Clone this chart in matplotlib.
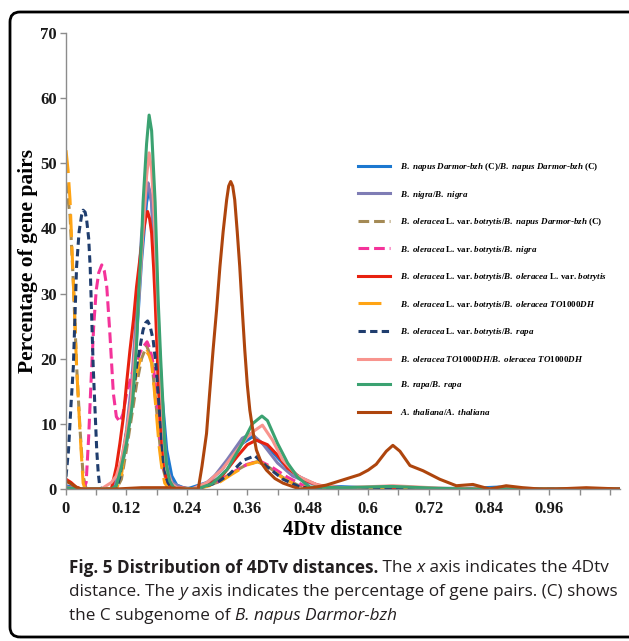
import matplotlib
matplotlib.use("Agg")
import matplotlib.pyplot as plt
from matplotlib.patches import FancyBboxPatch

plt.rcParams['mathtext.fontset'] = 'custom'
plt.rcParams['mathtext.it'] = 'Liberation Serif:italic:bold'
plt.rcParams['mathtext.rm'] = 'Liberation Serif:bold'
plt.rcParams['mathtext.bf'] = 'Liberation Serif:bold'

def L(s):
    return r"$\mathit{" + s.replace(" ", r"\ ") + "}$"

BOL = L("B. oleracea") + " L. var. " + L("botrytis")
BNC = L("B. napus Darmor") + "-" + L("bzh") + " (C)"

labels = [
    BNC + "/" + BNC,
    L("B. nigra") + "/" + L("B. nigra"),
    BOL + "/" + BNC,
    BOL + "/" + L("B. nigra"),
    BOL + "/" + BOL,
    BOL + "/" + L("B. oleracea TO1000DH"),
    BOL + "/" + L("B. rapa"),
    L("B. oleracea TO1000DH") + "/" + L("B. oleracea TO1000DH"),
    L("B. rapa") + "/" + L("B. rapa"),
    L("A. thaliana") + "/" + L("A. thaliana"),
]

# ---- data (4Dtv distance, percentage of gene pairs) ----
blue_x = [0, 0.03, 0.09, 0.10, 0.11, 0.12, 0.13, 0.14, 0.15, 0.16, 0.165, 0.17, 0.18, 0.19, 0.20, 0.21, 0.22, 0.24, 0.28, 0.31, 0.34, 0.37, 0.40, 0.43, 0.46, 0.50, 0.60, 0.70, 0.80, 0.86, 0.90, 1.0, 1.1]
blue_y = [0.5, 0, 0, 1, 3, 7, 13, 23, 35, 44, 46, 44, 30, 15, 6, 2, 0.6, 0, 1, 3, 6.5, 8, 6.5, 4, 2, 0.5, 0.2, 0.1, 0.1, 0.3, 0.1, 0, 0]

purple_x = [0, 0.03, 0.09, 0.10, 0.11, 0.12, 0.13, 0.14, 0.15, 0.16, 0.163, 0.17, 0.18, 0.19, 0.20, 0.21, 0.23, 0.26, 0.29, 0.32, 0.35, 0.368, 0.39, 0.42, 0.45, 0.48, 0.52, 0.6, 1.1]
purple_y = [0.3, 0, 0, 1.5, 4, 9, 16, 27, 39, 46, 47, 44, 30, 13, 3.5, 1, 0.2, 0, 1.5, 4.5, 7.8, 8.5, 7, 4, 2, 1, 0.2, 0, 0]

olive_x = [0, 0.008, 0.015, 0.021, 0.028, 0.034, 0.04, 0.10, 0.11, 0.12, 0.13, 0.14, 0.15, 0.16, 0.17, 0.18, 0.19, 0.20, 0.21, 0.26, 0.30, 0.33, 0.36, 0.38, 0.40, 0.43, 0.46, 0.50, 1.1]
olive_y = [47, 42, 31, 19, 9, 2, 0, 0, 1.5, 6, 11, 16, 20, 22, 20, 12, 4, 1, 0.2, 0, 1, 2.5, 3.8, 4.2, 3.5, 1.8, 0.6, 0, 0]

pink_x = [0, 0.02, 0.035, 0.040, 0.045, 0.050, 0.055, 0.06, 0.065, 0.071, 0.076, 0.081, 0.087, 0.094, 0.100, 0.107, 0.113, 0.12, 0.13, 0.14, 0.15, 0.161, 0.167, 0.173, 0.178, 0.183, 0.188, 0.193, 0.203, 0.21, 0.26, 0.30, 0.33, 0.36, 0.385, 0.41, 0.44, 0.47, 0.50, 1.1]
pink_y = [0.3, 0, 0, 1, 8, 17, 25, 30.5, 33.2, 34.4, 33.5, 31, 24, 14.7, 11.1, 10.3, 11.5, 14.5, 17.5, 19.5, 21.5, 22.6, 21.5, 19.3, 15.5, 11.1, 6.5, 3.4, 0.4, 0, 0, 1, 2.5, 3.8, 4.3, 3.3, 1.8, 0.6, 0, 0]

red_x = [0, 0.01, 0.02, 0.03, 0.09, 0.10, 0.107, 0.114, 0.12, 0.127, 0.134, 0.140, 0.147, 0.153, 0.158, 0.162, 0.166, 0.170, 0.174, 0.177, 0.180, 0.183, 0.188, 0.193, 0.198, 0.203, 0.21, 0.25, 0.28, 0.31, 0.34, 0.36, 0.378, 0.40, 0.42, 0.44, 0.47, 0.50, 0.55, 1.1]
red_y = [1.5, 1, 0.3, 0, 0, 3.4, 7, 11.1, 16, 21.3, 26, 31, 35.5, 39.3, 41.5, 42.6, 41.5, 39.3, 34, 29, 23, 16.2, 9.5, 4.5, 2, 0.9, 0.3, 0, 0.5, 2, 5, 6.8, 7.5, 6.8, 5.2, 3.2, 1.5, 0.6, 0.1, 0]

orange_x = [0, 0.004, 0.008, 0.0146, 0.021, 0.028, 0.034, 0.038, 0.10, 0.11, 0.12, 0.13, 0.14, 0.15, 0.160, 0.165, 0.170, 0.175, 0.18, 0.185, 0.19, 0.196, 0.205, 0.26, 0.30, 0.33, 0.36, 0.382, 0.40, 0.43, 0.46, 0.50, 1.1]
orange_y = [52, 49, 44.4, 31.6, 18.8, 8.5, 0.9, 0, 0, 2, 8.5, 13, 17.8, 20.5, 21.1, 20.5, 19.3, 15.5, 11.1, 6.5, 3.4, 0.9, 0, 0, 0.8, 2.3, 3.7, 4.2, 3.5, 1.7, 0.5, 0, 0]

navy_x = [0, 0.005, 0.010, 0.0146, 0.018, 0.021, 0.026, 0.031, 0.034, 0.038, 0.041, 0.045, 0.048, 0.051, 0.054, 0.058, 0.061, 0.064, 0.067, 0.07, 0.10, 0.107, 0.113, 0.12, 0.127, 0.134, 0.140, 0.147, 0.153, 0.158, 0.162, 0.167, 0.173, 0.178, 0.183, 0.188, 0.193, 0.198, 0.203, 0.21, 0.26, 0.28, 0.30, 0.325, 0.352, 0.375, 0.398, 0.431, 0.464, 0.50, 1.1]
navy_y = [1.9, 6, 13, 18.8, 27, 34.1, 39.5, 42, 42.8, 42.5, 41.3, 38.5, 34.1, 26.5, 18.8, 11.5, 6, 2.5, 0.4, 0, 0, 1.9, 5, 8.5, 11.1, 15, 18.8, 21.8, 24.4, 25.5, 25.8, 25, 22.9, 19.5, 14.7, 9.5, 4.5, 2, 0.9, 0.2, 0, 0.5, 1.0, 2.3, 4.4, 5.1, 3.5, 1.5, 0.3, 0, 0]

salmon_x = [0, 0.03, 0.07, 0.08, 0.09, 0.10, 0.11, 0.12, 0.13, 0.14, 0.15, 0.155, 0.16, 0.165, 0.17, 0.175, 0.18, 0.185, 0.19, 0.195, 0.20, 0.21, 0.22, 0.25, 0.28, 0.31, 0.34, 0.36, 0.375, 0.39, 0.41, 0.43, 0.46, 0.50, 0.55, 0.65, 0.75, 0.80, 1.1]
salmon_y = [0.2, 0, 0, 0.5, 1, 2, 4.5, 8.5, 14, 24, 36, 42, 48, 51.6, 49, 42, 33, 23, 14, 7, 3, 0.8, 0.2, 0, 1, 3, 6, 8, 9, 9.8, 7.5, 4.5, 2, 0.6, 0.2, 0.5, 0.1, 0, 0]

green_x = [0, 0.03, 0.09, 0.10, 0.11, 0.12, 0.13, 0.1325, 0.14, 0.1435, 0.15, 0.153, 0.16, 0.165, 0.17, 0.177, 0.183, 0.188, 0.192, 0.196, 0.200, 0.206, 0.213, 0.22, 0.26, 0.29, 0.32, 0.35, 0.37, 0.389, 0.40, 0.42, 0.44, 0.46, 0.484, 0.55, 0.645, 0.74, 0.80, 1.1]
green_y = [0.2, 0, 0, 0.5, 3.4, 7, 12, 13.7, 22, 29, 38, 44, 53, 57.4, 55, 44, 29, 20, 13.7, 7, 3.4, 1.2, 0.3, 0, 0, 0.8, 3, 7, 10, 11.2, 10.5, 7, 4, 1.8, 0.3, 0.2, 0.4, 0.1, 0, 0]

brown_x = [0, 0.01, 0.02, 0.03, 0.10, 0.15, 0.20, 0.24, 0.2626, 0.270, 0.279, 0.285, 0.292, 0.299, 0.3056, 0.312, 0.319, 0.323, 0.327, 0.331, 0.335, 0.340, 0.345, 0.350, 0.355, 0.360, 0.365, 0.372, 0.378, 0.388, 0.398, 0.415, 0.431, 0.464, 0.490, 0.517, 0.55, 0.583, 0.60, 0.616, 0.636, 0.649, 0.663, 0.683, 0.709, 0.742, 0.775, 0.808, 0.841, 0.874, 0.907, 0.94, 0.973, 1.033, 1.1]
brown_y = [1.2, 0.8, 0.3, 0, 0, 0.2, 0.2, 0, 0, 3.5, 8.5, 14.5, 21.3, 27.5, 34.1, 39.5, 44.4, 46.5, 47.2, 46.5, 44.4, 39.5, 34.1, 27.5, 21.3, 16, 12.1, 8.5, 6, 4, 2.9, 1.6, 0.9, 0, 0.2, 0.6, 1.4, 2.2, 2.9, 3.8, 5.8, 6.7, 5.8, 3.6, 2.8, 1.5, 0.5, 0.7, 0, 0.5, 0.2, 0, 0, 0.2, 0]

xtick_vals = [0, 0.12, 0.24, 0.36, 0.48, 0.6, 0.72, 0.84, 0.96]
xtick_labels = ["0", "0.12", "0.24", "0.36", "0.48", "0.6", "0.72", "0.84", "0.96"]
ytick_vals = [0, 10, 20, 30, 40, 50, 60, 70]

series = [
    (blue_x, blue_y, "#1C78D0", None),
    (purple_x, purple_y, "#7F7DB5", None),
    (olive_x, olive_y, "#A48A55", (3.5, 1.6)),
    (pink_x, pink_y, "#F4339A", (3.5, 1.6)),
    (red_x, red_y, "#E8210F", None),
    (orange_x, orange_y, "#FFA414", (7.5, 3.0)),
    (navy_x, navy_y, "#1F3D6E", (2.4, 1.4)),
    (salmon_x, salmon_y, "#F8948E", None),
    (green_x, green_y, "#3BA271", None),
    (brown_x, brown_y, "#AE450D", None),
]

W, H = 629, 641
fig = plt.figure(figsize=(W / 100, H / 100), dpi=100)
ax = fig.add_axes([66 / W, 1 - 489 / H, (620 - 66) / W, (489 - 33) / H])

for (xs, ys, c, d), lab in zip(series, labels):
    if d is None:
        ax.plot(xs, ys, color=c, lw=2.2, label=lab, solid_joinstyle='round')
    else:
        ax.plot(xs, ys, color=c, lw=2.2, label=lab, linestyle=(0, d))

ax.set_xlim(0, 1.1)
ax.set_ylim(0, 70)
for s in ['top', 'right']:
    ax.spines[s].set_visible(False)
for s in ['left', 'bottom']:
    ax.spines[s].set_color('#8c8c8c')
    ax.spines[s].set_linewidth(1.0)

minor = [i * 0.06 for i in range(19)]
ax.set_xticks(minor, minor=True)
ax.set_xticks(xtick_vals)
ax.set_xticklabels(xtick_labels)
ax.set_yticks(ytick_vals)
ax.tick_params(axis='both', which='both', direction='out', length=4.5, color='#8c8c8c', width=1.0)
ax.tick_params(axis='x', pad=4)
ax.tick_params(axis='y', pad=2)
for t in ax.get_xticklabels() + ax.get_yticklabels():
    t.set_fontfamily('Liberation Serif')
    t.set_fontweight('bold')
    t.set_fontsize(12)
    t.set_color('#1a1a1a')

ax.set_xlabel("4Dtv distance", fontfamily='Liberation Serif', fontweight='bold', fontsize=14.8, labelpad=2)
ax.set_ylabel("Percentage of gene pairs", fontfamily='Liberation Serif', fontweight='bold', fontsize=15.5, labelpad=1.5)

leg = ax.legend(loc='upper left', bbox_to_anchor=(358 / W, 1 - 161 / H), bbox_transform=fig.transFigure,
                frameon=False, borderpad=0, borderaxespad=0, handlelength=3.54, handletextpad=1.1,
                labelspacing=1.72, prop={'family': 'Liberation Serif', 'weight': 'bold', 'size': 6.5})

# caption
renderer = fig.canvas.get_renderer()
cap_font = 'Open Sans'
cap_size = 12.3
lines = [
    [("Fig. 5 Distribution of 4DTv distances.", 'bold', 'normal'), (" The ", 'normal', 'normal'),
     ("x", 'normal', 'italic'), (" axis indicates the 4Dtv", 'normal', 'normal')],
    [("distance. The ", 'normal', 'normal'), ("y", 'normal', 'italic'),
     (" axis indicates the percentage of gene pairs. (C) shows", 'normal', 'normal')],
    [("the C subgenome of ", 'normal', 'normal'), ("B. napus Darmor-bzh", 'normal', 'italic')],
]
ys_cap = [568, 592, 616]
for line, yp in zip(lines, ys_cap):
    xp = 69 / W
    for txt, wt, st in line:
        t = fig.text(xp, 1 - yp / H, txt, fontfamily=cap_font, fontweight=wt, fontstyle=st,
                     fontsize=cap_size, color='#231f20', va='center', ha='left')
        bb = t.get_window_extent(renderer)
        xp = bb.x1 / W

# frame
frame = FancyBboxPatch((0.10, 0.04), 6.5, 6.25, boxstyle="round,pad=0,rounding_size=0.1",
                       transform=fig.dpi_scale_trans, facecolor='none', edgecolor='black', linewidth=2.0)
fig.patches.append(frame)

fig.savefig("out.png", dpi=100)
